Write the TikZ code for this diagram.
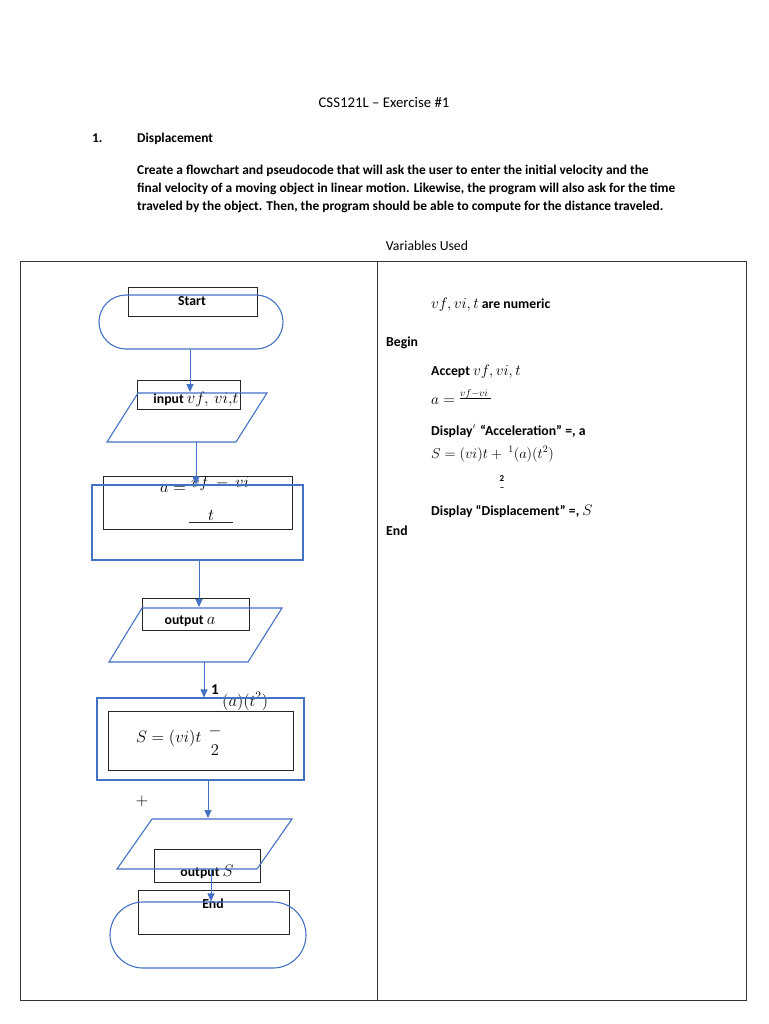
\documentclass[tikz,border=0pt]{standalone}
\usepackage{graphicx}
\usepackage{fontspec}
\setmainfont{Carlito}
\usetikzlibrary{arrows.meta}
\definecolor{fcblue}{RGB}{68,114,196}
\newcommand{\mth}[1]{\scalebox{1.15}{$#1$}}
\newcommand{\mtr}[1]{\scalebox{1.06}{$#1$}}
\begin{document}
\begin{tikzpicture}[x=1pt,y=-1pt,
  txt/.style={font=\fontsize{13.75}{18}\selectfont, inner sep=0pt, anchor=base west},
  btxt/.style={font=\fontsize{13.75}{18}\selectfont\bfseries, inner sep=0pt, anchor=base west},
  ptxt/.style={font=\fontsize{13.4}{18}\selectfont\bfseries, inner sep=0pt, anchor=base west},
  ctxt/.style={font=\fontsize{13.75}{18}\selectfont\bfseries, inner sep=0pt, anchor=base},
  blk/.style={draw=black!85, line width=0.9pt, inner sep=0pt},
  blu/.style={draw=fcblue, line width=1.1pt, inner sep=0pt},
  arr/.style={draw=fcblue, line width=0.9pt, -{Triangle[length=8pt,width=7pt]}},
  frame/.style={draw=black!80, line width=1pt}]
\useasboundingbox (0,0) rectangle (768,1024);
\fill[white] (0,0) rectangle (768,1024);

% header text
\node[txt, anchor=base, font=\fontsize{14.8}{18}\selectfont] (title) at (384,108) {CSS121L -- Exercise \#1};
\node[ptxt] (num) at (92,143) {1.};
\node[ptxt] (head) at (137,143) {Displacement};
\node[ptxt] (p1) at (137,175) {Create a flowchart and pseudocode that will ask the user to enter the initial velocity and the};
\node[ptxt] (p2) at (137,193) {final velocity of a moving object in linear motion. Likewise, the program will also ask for the time};
\node[ptxt] (p3) at (137,211) {traveled by the object. Then, the program should be able to compute for the distance traveled.};
\node[txt, anchor=base] (vars) at (427,250) {Variables Used};

% table frame
\node[frame, minimum width=726, minimum height=739, inner sep=0pt] (tbl) at (383,630.5) {};
\draw[frame] (tbl.north -| 377,0) coordinate (divtop) -- (tbl.south -| 377,0) coordinate (divbot);

% ---------- flowchart: black text boxes ----------
\node[blk, minimum width=129, minimum height=29] (startbox) at (192.5,301.5) {};
\node[blk, minimum width=103, minimum height=29] (inbox) at (188.5,394.5) {};
\node[blk, minimum width=189, minimum height=53] (abox) at (197.5,502.5) {};
\node[blk, minimum width=107, minimum height=32] (outabox) at (195.5,614) {};
\node[blk, minimum width=185, minimum height=59] (sbox) at (200.5,740.5) {};
\node[blk, minimum width=106, minimum height=33] (outsbox) at (207,865.5) {};
\node[blk, minimum width=151, minimum height=44] (endbox) at (213.5,912) {};

% ---------- flowchart: texts ----------
\node[ctxt] (tstart) at (192,305) {Start};
\node[ctxt] (tin) at (196,403) {input \mth{vf,\,vi{,}t}};
\node[txt] (taeq) at (160,492) {\mth{a =}};
\begin{scope}
  \clip (150,477) rectangle (300,500);
  \node[txt] (tnum) at (191,487) {\mth{vf\,-\,vi}};
\end{scope}
\node[txt, anchor=base] (tt) at (211,520) {\mth{t}};
\draw[black!85, line width=0.8pt] (189,522) coordinate (ul1) -- (233,522) coordinate (ul2);
\node[ctxt] (touta) at (190,624) {output \mth{a}};
\node[txt, font=\fontsize{15}{18}\selectfont\bfseries] (tone) at (211,694) {1};
\node[txt] (tat) at (222,706) {\mth{(a)(t^2)}};
\node[txt] (tseq) at (136,742) {\mth{S = (vi)t}};
\node[txt, anchor=base] (tbar) at (215,735) {\mth{-}};
\node[txt, anchor=base] (ttwo) at (215,755) {\mth{2}};
\node[txt, anchor=base] (tplus) at (142,805) {\mth{+}};
\node[ctxt] (touts) at (207,876) {output \mth{S}};
\node[ctxt] (tend) at (213,908) {End};

% ---------- flowchart: blue shapes ----------
\node[blu, rounded corners=27pt, minimum width=184, minimum height=54] (start) at (191,322) {};
\draw[blu] (138,393) -- (267,393) -- (236,442) -- (107,442) -- cycle;
\coordinate (inTop) at (190,392);
\coordinate (inBot) at (196,442);
\node[blu, minimum width=211, minimum height=75] (proca) at (197.5,522.5) {};
\draw[blu] (142,608) -- (282,608) -- (248,662) -- (109,662) -- cycle;
\coordinate (outaTop) at (199,607);
\coordinate (outaBot) at (204,662);
\node[blu, minimum width=207, minimum height=82] (procs) at (200.5,739) {};
\draw[blu] (152,819) -- (292,819) -- (257,869) -- (117,869) -- cycle;
\coordinate (outsTop) at (208,818);
\coordinate (outsMid) at (211,869);
\node[blu, rounded corners=33pt, minimum width=196, minimum height=66] (endt) at (208,935) {};

% ---------- connectors ----------
\draw[arr] (start.south -| inTop) -- (inTop);
\draw[arr] (inBot) -- (inBot |- proca.north);
\draw[arr] (proca.south -| outaTop) -- (outaTop);
\draw[arr] (outaBot) -- (outaBot |- procs.north);
\draw[arr] (procs.south -| outsTop) -- (outsTop);
\draw[arr] (outsMid) -- (outsMid |- endt.north);

% ---------- pseudocode ----------
\node[txt] (c1) at (431,308) {\mtr{vf, vi, t} \textbf{are numeric}};
\node[btxt] (c2) at (386,346) {Begin};
\node[txt] (c3) at (431,375) {\textbf{Accept} \mtr{vf, vi, t}};
\node[txt] (c4) at (431,404) {\mtr{a =}};
\node[txt, font=\fontsize{10}{10}\selectfont] (c4n) at (460,396) {$vf{-}vi$};
\draw[black, line width=0.6pt] (460,398.5) coordinate (fl1) -- (491,398.5) coordinate (fl2);
\node[btxt] (c5) at (431,435) {Display};
\node[txt, font=\fontsize{7}{8}\selectfont, anchor=base west] (c5t) at ([yshift=7pt]c5.base east) {$t$};
\node[btxt] (c5b) at (480,435) {\textquotedblleft Acceleration\textquotedblright\ =, a};
\node[txt] (c6) at (431,458) {$S = (vi)t +\ {}^{1}(a)(t^2)$};
\node[txt, anchor=base, font=\fontsize{9}{10}\selectfont\bfseries] (c7) at (502,481) {2};
\node[txt, anchor=base, font=\fontsize{9}{10}\selectfont\bfseries] (c7b) at (502,490) {--};
\node[btxt] (c8) at (431,515) {Display \textquotedblleft Displacement\textquotedblright\ =, \mdseries\mtr{S}};
\node[btxt] (c9) at (386,535) {End};
\end{tikzpicture}
\end{document}
